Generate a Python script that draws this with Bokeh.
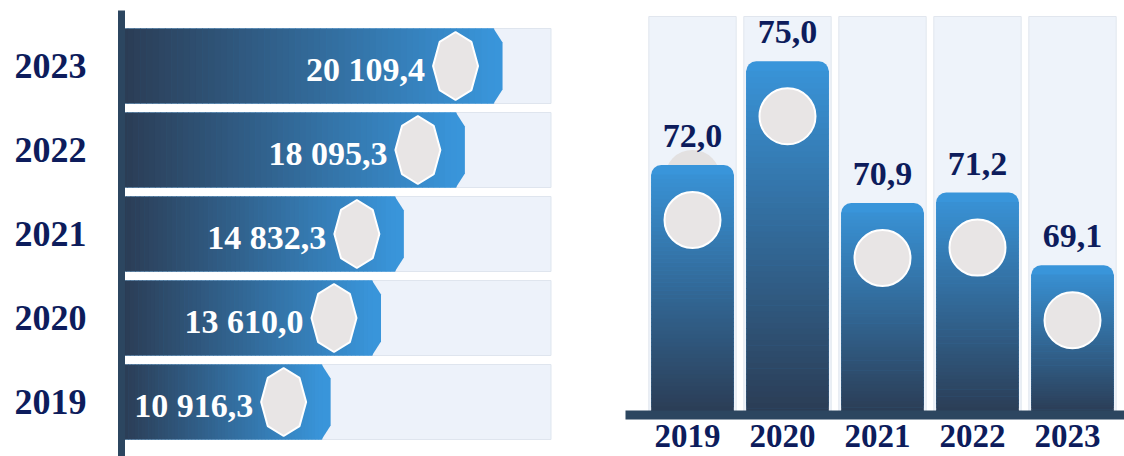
import numpy as np
from bokeh.plotting import figure
from bokeh.models import Range1d, FixedTicker
from bokeh.core.properties import value
from bokeh.embed import file_html
from bokeh.resources import INLINE

# ---------------- data ----------------
years = ["2019", "2020", "2021", "2022", "2023"]
volume = [10916.3, 13610.0, 14832.3, 18095.3, 20109.4]
volume_labels = ["10 916,3", "13 610,0", "14 832,3", "18 095,3", "20 109,4"]
share = [72.0, 75.0, 70.9, 71.2, 69.1]
share_labels = ["72,0", "75,0", "70,9", "71,2", "69,1"]

# ---------------- styles ----------------
SERIF = "Liberation Serif"
NAVY = "#0d1c5c"
AXIS_COL = "#2c4660"
TRACK = "#edf2fa"
TRACK_LINE = "#dfe5ee"
DISC = "#e8e5e5"
DARK = np.array([0x2b, 0x3c, 0x54], dtype=float)
BLUE = np.array([0x39, 0x95, 0xda], dtype=float)


def mix(t):
    c = DARK + (BLUE - DARK) * t
    return "#%02x%02x%02x" % tuple(int(round(v)) for v in c)


W, H = 1124, 456
ML, MT = 121, 10
FW, FH = W - ML, H - MT
idx = np.arange(len(years))

# ---- left chart scales (default ranges) ----
ux = 1 / 0.0187            # volume units per pixel
x0 = -5 * ux
x1 = x0 + FW * ux
pitch_y = 84.0
y0 = -(H - 401.5) / pitch_y
y1 = y0 + FH / pitch_y
uy = 1 / pitch_y
TRACK_END = 22700

# ---- right chart scales (extra ranges) ----
pitch_x = 95.0
xa = -(692 - ML) / pitch_x
xb = xa + FW / pitch_x
ppu = 34.56
BASE = 64.78               # value at the baseline
ya0 = BASE - (H - 414) / ppu
ya1 = ya0 + FH / ppu
vy = 1 / ppu
BG_TOP = BASE + (414 - 16) / ppu

p = figure(width=W, height=H, x_range=Range1d(x0, x1), y_range=Range1d(y0, y1),
           output_backend="svg", toolbar_location=None, x_axis_location=None,
           min_border_left=ML, min_border_right=0, min_border_top=MT, min_border_bottom=0,
           background_fill_color="white", border_fill_color="white")
p.extra_x_ranges = {"x2": Range1d(xa, xb)}
p.extra_y_ranges = {"y2": Range1d(ya0, ya1)}
p.outline_line_color = None
p.grid.visible = False

# ================= left chart: horizontal bars =================
bh = 75 * uy
p.hbar(y=idx, left=0, right=TRACK_END, height=bh, fill_color=TRACK, line_color=TRACK_LINE)

cdx, cdy = 9 * ux, 14 * uy
xs, ys = [], []
for i, v in enumerate(volume):
    t, b = i + bh / 2, i - bh / 2
    xs.append([x0, v - cdx, v, v, v - cdx, x0])
    ys.append([t, t, t - cdy, b + cdy, b, b])
p.patches(xs, ys, fill_color=mix(1.0), line_color=None)

N = 60
L, R, T, B, C = [], [], [], [], []
for i, v in enumerate(volume):
    edges = np.linspace(x0, v - cdx, N + 1)
    for k in range(N):
        L.append(edges[k]); R.append(edges[k + 1] + ux * 0.6)
        T.append(i + bh / 2); B.append(i - bh / 2)
        C.append(mix((k + 0.5) / N))
p.quad(left=L, right=R, top=T, bottom=B, fill_color=C, line_color=None)

rx, ry = 22.5 * ux, 34 * uy
ang = np.deg2rad(np.arange(0, 360, 45))
oxs, oys, ocx = [], [], []
for i, v in enumerate(volume):
    cx = v - 47 * ux
    ocx.append(cx)
    oxs.append(list(cx + rx * np.cos(ang)))
    oys.append(list(i + ry * np.sin(ang)))
p.patches(oxs, oys, fill_color=DISC, line_color="white", line_width=2)

p.text(x=[c - rx - 8 * ux for c in ocx], y=[i - 3 * uy for i in idx], text=volume_labels,
       text_align="right", text_baseline="middle", text_color="white",
       text_font=value(SERIF), text_font_style="bold", text_font_size="34px")

ya = p.yaxis[0]
ya.ticker = FixedTicker(ticks=list(idx))
ya.major_label_overrides = {int(i): y for i, y in zip(idx, years)}
ya.major_label_text_font = SERIF
ya.major_label_text_font_style = "bold"
ya.major_label_text_font_size = "36px"
ya.major_label_text_color = NAVY
ya.major_label_standoff = 35
ya.major_tick_in = 0
ya.major_tick_out = 0
ya.minor_tick_in = 0
ya.minor_tick_out = 0
ya.axis_line_width = 7
ya.axis_line_color = AXIS_COL

# ================= right chart: vertical bars =================
R2 = dict(x_range_name="x2", y_range_name="y2")

p.vbar(x=idx, width=0.92, bottom=BASE, top=BG_TOP, fill_color="#eef3fa",
       line_color="#e1e6ee", **R2)

# faint disc peeking above the first bar
p.scatter(x=[idx[0]], y=[share[0] - 13 * vy], size=56, marker="circle",
          fill_color="#e3e1e1", line_color=None, **R2)

bw = 0.87
p.vbar(x=idx, width=bw, bottom=BASE, top=share, fill_color=mix(1.0), line_color=None,
       border_radius=10, **R2)

GL, GR, GT, GB, GC = [], [], [], [], []
M = 60
for i, v in enumerate(share):
    edges = np.linspace(BASE, v - 10 * vy, M + 1)
    for k in range(M):
        GL.append(i - bw / 2); GR.append(i + bw / 2)
        GB.append(edges[k]); GT.append(edges[k + 1] + vy * 0.6)
        GC.append(mix(((edges[k] + edges[k + 1]) / 2 - BASE) / (v - BASE)))
p.quad(left=GL, right=GR, top=GT, bottom=GB, fill_color=GC, line_color=None, **R2)

p.scatter(x=idx, y=[v - 55 * vy for v in share], size=56, marker="circle",
          fill_color=DISC, line_color="white", line_width=2, **R2)

p.text(x=idx, y=[v + 29 * vy for v in share], text=share_labels, text_align="center",
       text_baseline="alphabetic", text_color=NAVY, text_font=value(SERIF),
       text_font_style="bold", text_font_size="34px", **R2)

# baseline bar
p.quad(left=[(625 - 692) / pitch_x], right=[xb + 1], top=[BASE + 4 * vy], bottom=[BASE - 5 * vy],
       fill_color=AXIS_COL, line_color=None, **R2)

# year labels under the columns
p.text(x=idx - 5 / pitch_x, y=[BASE - 21 * vy] * len(years), text=years, text_align="center",
       text_baseline="alphabetic", text_color=NAVY, text_font=value(SERIF),
       text_font_style="bold", text_font_size="33px", **R2)

open("out.html", "w").write(file_html(p, INLINE))
